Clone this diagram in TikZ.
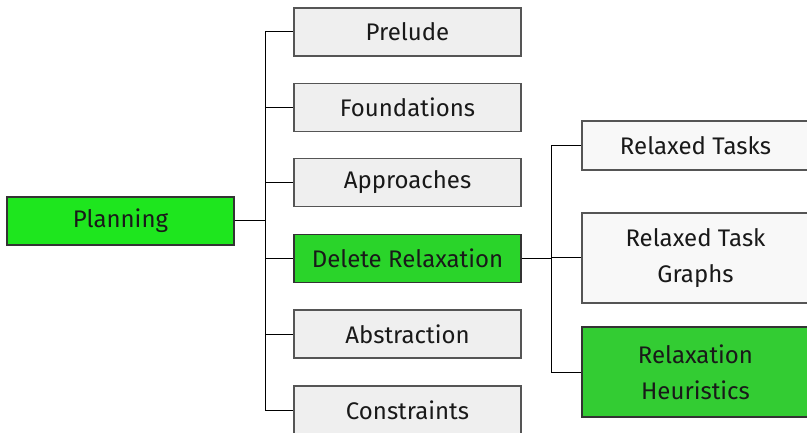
\documentclass[tikz,border=0pt]{standalone}
\usepackage{fontspec}
\setmainfont{Fira Sans}
\usetikzlibrary{calc}
\definecolor{rootgreen}{HTML}{1EE61E}
\definecolor{pathgreen}{HTML}{2AD42A}
\definecolor{leafgreen}{HTML}{33CC33}
\definecolor{boxgray}{HTML}{EFEFEF}
\definecolor{boxlight}{HTML}{F8F8F8}
\definecolor{edgegray}{HTML}{555555}
\tikzset{
  topic/.style={draw=edgegray, line width=1.1pt, fill=boxgray, minimum width=227pt,
    minimum height=48pt, inner sep=2pt, font=\fontsize{24}{36}\selectfont, align=center,
    text=black!90},
  subtopic/.style={topic, fill=boxlight},
  active/.style={draw=black!80},
  link/.style={draw=black, line width=1pt},
}
\begin{document}
\begin{tikzpicture}[x=1pt,y=-1pt]
\useasboundingbox (0,0) rectangle (807,433);
% root
\node[topic, active, fill=rootgreen] (planning) at (120.5,221) {Planning};
% first level
\node[topic] (prelude) at (407.5,32) {Prelude};
\node[topic] (found) at (407.5,107.5) {Foundations};
\node[topic] (approach) at (407.5,182.5) {Approaches};
\node[topic, active, fill=pathgreen] (delrel) at (407.5,258.5) {Delete Relaxation};
\node[topic] (abstr) at (407.5,334) {Abstraction};
\node[topic] (constr) at (407.5,410) {Constraints};
% second level
\node[subtopic, minimum height=49pt] (rtasks) at (695.5,145.5) {Relaxed Tasks};
\node[subtopic, minimum height=90pt] (rgraphs) at (695.5,258) {Relaxed Task\\Graphs};
\node[subtopic, active, fill=leafgreen, minimum height=90pt] (rheur) at (695.5,372) {Relaxation\\Heuristics};
% connectors
\coordinate (j1) at ($(planning.east)+(30.5,0)$);
\coordinate (j2) at ($(delrel.east)+(30,0)$);
\draw[link] (planning.east) -- (j1);
\foreach \c in {prelude,found,approach,delrel,abstr,constr}
  \draw[link] (j1) |- (\c.west);
\draw[link] (delrel.east) -- (j2);
\foreach \c in {rtasks,rgraphs,rheur}
  \draw[link] (j2) |- (\c.west);
\end{tikzpicture}
\end{document}
